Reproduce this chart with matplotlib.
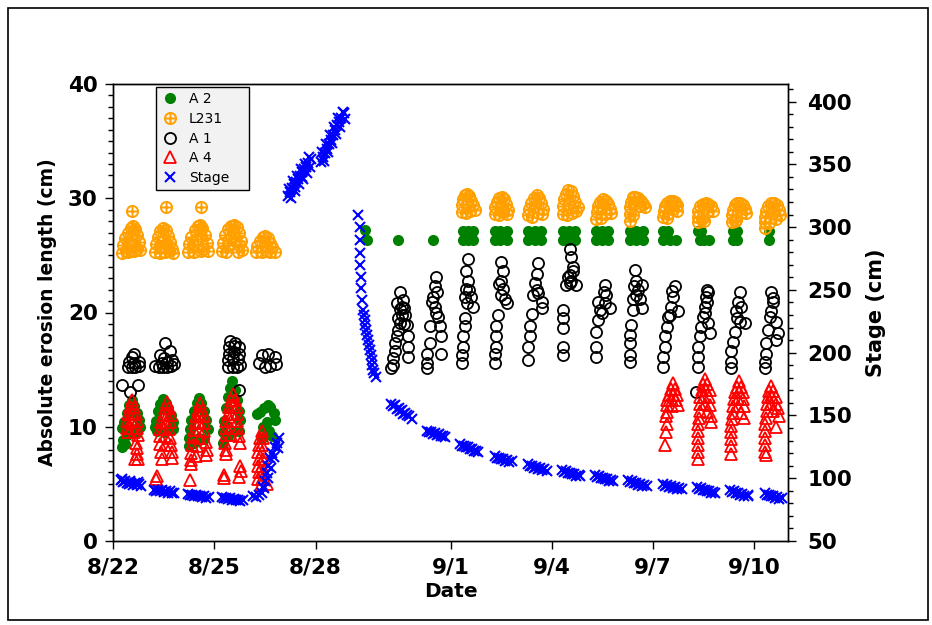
import matplotlib
matplotlib.use("Agg")
import matplotlib.pyplot as plt
from matplotlib.path import Path
from matplotlib.patches import Rectangle
from matplotlib.ticker import MultipleLocator

# ---------------------------------------------------------------------------
# data: x = days after 8/22, y = erosion length (cm) or stage (cm)
# ---------------------------------------------------------------------------
DATE_TICKS = [0, 3, 6, 10, 13, 16, 19]
DATE_LABELS = ['8/22', '8/25', '8/28', '9/1', '9/4', '9/7', '9/10']

A2_POINTS = [
    (0.27, 8.2), (0.30, 8.8), (0.27, 9.9), (0.33, 10.4), (0.40, 11.2), (0.48, 11.9), (0.55, 12.3),
    (0.62, 11.8), (0.70, 11.2), (0.76, 10.6), (0.80, 10.0), (0.40, 9.3), (0.55, 9.8), (0.70, 9.5), (0.35, 8.5),
    (1.24, 10.0), (1.26, 10.5), (1.32, 11.4), (1.40, 12.0), (1.48, 12.4), (1.56, 12.1), (1.64, 11.6),
    (1.72, 11.0), (1.78, 10.4), (1.78, 9.8), (1.30, 9.6), (1.50, 9.5), (1.65, 9.7),
    (2.25, 8.3), (2.25, 9.0), (2.28, 9.8), (2.32, 10.6), (2.40, 11.4), (2.48, 12.1), (2.55, 12.5),
    (2.62, 12.1), (2.70, 11.4), (2.77, 10.6), (2.81, 9.8), (2.40, 8.6), (2.55, 9.0), (2.70, 8.9),
    (3.26, 8.6), (3.26, 9.5), (3.30, 10.5), (3.36, 11.6), (3.42, 12.6), (3.48, 13.4), (3.52, 14.0),
    (3.60, 13.2), (3.66, 12.3), (3.72, 11.4), (3.76, 10.6), (3.40, 9.2), (3.60, 9.6), (3.74, 9.6),
    (4.26, 11.1), (4.35, 11.3), (4.48, 11.6), (4.58, 11.9), (4.66, 11.7), (4.76, 11.2), (4.80, 10.6),
    (4.55, 10.4), (4.45, 10.0), (4.62, 9.6), (4.70, 9.2), (4.40, 9.0),
    (7.47, 27.2), (7.52, 26.35), (8.45, 26.35), (9.47, 26.35),
    (10.36, 27.1), (10.51, 27.1), (10.66, 27.1), (10.36, 26.35), (10.51, 26.35), (10.66, 26.35),
    (11.31, 27.1), (11.48, 27.1), (11.66, 27.1), (11.31, 26.35), (11.48, 26.35), (11.66, 26.35),
    (12.29, 27.1), (12.49, 27.1), (12.69, 27.1), (12.29, 26.35), (12.49, 26.35), (12.69, 26.35),
    (13.33, 27.1), (13.50, 27.1), (13.68, 27.1), (13.33, 26.35), (13.50, 26.35), (13.68, 26.35),
    (14.32, 27.1), (14.49, 27.1), (14.66, 27.1), (14.32, 26.35), (14.49, 26.35), (14.66, 26.35),
    (15.31, 27.1), (15.50, 27.1), (15.69, 27.1), (15.31, 26.35), (15.50, 26.35), (15.69, 26.35),
    (16.29, 27.1), (16.45, 27.1), (16.29, 26.35), (16.49, 26.35), (16.69, 26.35),
    (17.33, 27.1), (17.42, 27.1), (17.38, 26.35), (17.52, 26.35), (17.65, 26.35),
    (18.36, 27.1), (18.48, 27.1), (18.36, 26.35), (18.48, 26.35),
    (19.45, 27.1), (19.45, 26.35),
]

L231_POINTS = [
    (0.27, 25.2), (0.30, 25.9), (0.36, 26.5), (0.44, 27.0), (0.52, 27.4), (0.59, 27.6), (0.66, 27.3),
    (0.72, 26.8), (0.77, 26.2), (0.80, 25.5), (0.45, 25.3), (0.62, 25.4), (0.53, 26.4), (0.38, 25.4),
    (0.70, 25.6), (0.45, 26.0), (0.60, 26.9), (0.56, 28.9),
    (1.24, 25.3), (1.27, 26.0), (1.33, 26.6), (1.40, 27.1), (1.49, 27.4), (1.57, 27.2), (1.63, 26.7),
    (1.70, 26.2), (1.76, 25.6), (1.78, 25.2), (1.40, 25.2), (1.55, 25.3), (1.48, 26.3), (1.65, 25.4),
    (1.38, 25.8), (1.58, 26.0), (1.57, 29.2),
    (2.22, 25.3), (2.25, 26.0), (2.32, 26.6), (2.42, 27.2), (2.52, 27.6), (2.58, 27.7), (2.65, 27.4),
    (2.72, 26.8), (2.78, 26.1), (2.81, 25.4), (2.40, 25.3), (2.60, 25.4), (2.50, 26.4), (2.68, 25.6),
    (2.38, 25.9), (2.62, 26.7), (2.60, 29.2),
    (3.23, 25.4), (3.26, 26.1), (3.32, 26.8), (3.40, 27.3), (3.50, 27.6), (3.58, 27.7), (3.66, 27.5),
    (3.73, 27.0), (3.79, 26.3), (3.82, 25.5), (3.36, 25.3), (3.70, 25.3), (3.50, 26.5), (3.62, 26.3),
    (3.40, 25.9), (3.74, 25.9), (3.56, 27.0),
    (4.24, 25.3), (4.28, 25.8), (4.35, 26.3), (4.43, 26.6), (4.50, 26.7), (4.58, 26.5), (4.65, 26.1),
    (4.72, 25.7), (4.79, 25.3), (4.40, 25.3), (4.55, 25.4), (4.65, 25.3), (4.50, 25.9),
    (10.33, 28.8), (10.34, 29.4), (10.38, 29.9), (10.44, 30.3), (10.50, 30.4), (10.56, 30.2),
    (10.62, 29.8), (10.68, 29.4), (10.72, 29.0), (10.45, 28.7), (10.58, 28.9), (10.50, 29.5),
    (11.31, 28.6), (11.33, 29.2), (11.38, 29.7), (11.45, 30.0), (11.52, 30.1), (11.58, 29.9),
    (11.64, 29.5), (11.70, 29.0), (11.68, 28.6), (11.45, 28.5), (11.55, 28.8), (11.50, 29.3),
    (12.29, 28.5), (12.32, 29.1), (12.38, 29.6), (12.46, 30.0), (12.55, 30.3), (12.62, 30.0),
    (12.68, 29.6), (12.73, 29.1), (12.72, 28.6), (12.42, 28.4), (12.58, 28.7), (12.50, 29.3),
    (13.33, 28.6), (13.33, 29.3), (13.36, 29.9), (13.42, 30.4), (13.48, 30.7), (13.56, 30.6),
    (13.63, 30.2), (13.70, 29.7), (13.77, 29.2), (13.45, 28.5), (13.60, 28.7), (13.52, 29.5), (13.72, 28.9),
    (14.32, 28.2), (14.33, 28.8), (14.37, 29.3), (14.44, 29.7), (14.52, 29.9), (14.60, 29.8),
    (14.66, 29.5), (14.72, 29.1), (14.76, 28.7), (14.45, 28.3), (14.58, 28.6), (14.50, 29.2),
    (15.33, 28.0), (15.31, 28.6), (15.31, 29.2), (15.34, 29.7), (15.40, 30.1), (15.48, 30.1),
    (15.56, 30.0), (15.63, 29.8), (15.70, 29.5), (15.75, 29.2), (15.40, 28.5), (15.45, 29.5), (15.60, 29.3),
    (16.29, 28.4), (16.32, 28.9), (16.36, 29.3), (16.42, 29.6), (16.50, 29.8), (16.58, 29.8),
    (16.65, 29.7), (16.72, 29.4), (16.70, 28.9), (16.45, 28.6), (16.58, 29.1), (16.40, 28.3),
    (17.33, 27.9), (17.32, 28.4), (17.34, 28.9), (17.40, 29.3), (17.48, 29.5), (17.56, 29.6),
    (17.64, 29.5), (17.72, 29.3), (17.77, 28.9), (17.45, 28.2), (17.60, 28.8), (17.50, 28.0),
    (18.33, 27.9), (18.33, 28.5), (18.36, 29.0), (18.42, 29.4), (18.50, 29.6), (18.58, 29.6),
    (18.66, 29.4), (18.73, 29.1), (18.77, 28.7), (18.45, 28.1), (18.60, 28.7), (18.42, 28.0),
    (19.31, 27.4), (19.31, 27.9), (19.33, 28.4), (19.36, 28.9), (19.42, 29.3), (19.50, 29.6),
    (19.58, 29.6), (19.66, 29.4), (19.73, 29.0), (19.75, 28.5), (19.45, 27.8), (19.55, 28.7), (19.65, 28.2),
]

A1_POINTS = [
    (0.26, 13.65), (0.50, 13.07), (0.75, 13.65),
    (0.44, 15.2), (0.55, 15.2), (0.66, 15.2), (0.78, 15.3), (0.48, 15.7), (0.62, 15.6), (0.76, 15.7),
    (0.55, 16.1), (0.62, 16.4),
    (1.24, 15.3), (1.36, 15.2), (1.48, 15.2), (1.60, 15.2), (1.72, 15.3), (1.80, 15.5), (1.45, 15.6),
    (1.60, 15.7), (1.75, 15.8), (1.39, 16.3), (1.69, 16.6), (1.54, 17.3), (1.52, 16.0),
    (3.42, 15.2), (3.55, 15.2), (3.68, 15.2), (3.76, 15.4), (3.42, 15.8), (3.55, 15.9), (3.70, 15.9),
    (3.45, 16.4), (3.58, 16.5), (3.72, 16.4), (3.45, 17.0), (3.58, 17.1), (3.48, 17.5), (3.62, 17.3),
    (3.72, 17.0), (3.74, 13.2),
    (4.41, 16.3), (4.59, 16.37), (4.80, 16.1), (4.32, 15.55), (4.50, 15.2), (4.83, 15.5), (4.65, 15.3),
    (8.25, 15.1), (8.30, 15.4), (8.30, 16.0), (8.35, 16.6), (8.35, 17.3), (8.40, 17.9), (8.45, 18.5),
    (8.50, 19.05), (8.55, 19.8), (8.55, 20.5), (8.60, 21.1), (8.50, 21.8), (8.74, 16.1), (8.74, 17.0),
    (8.74, 17.9), (8.70, 18.9), (8.65, 19.8), (8.40, 20.8), (8.50, 20.3), (8.62, 20.4), (8.45, 19.5),
    (8.62, 19.0),
    (9.58, 23.1), (9.53, 22.3), (9.49, 21.4), (9.53, 20.5), (9.63, 19.6), (9.68, 18.8), (9.73, 17.9),
    (9.73, 16.4), (9.39, 18.8), (9.39, 17.3), (9.29, 16.4), (9.29, 15.55), (9.29, 15.1), (9.44, 20.9),
    (9.60, 21.8), (9.58, 20.0),
    (10.52, 24.7), (10.47, 23.6), (10.52, 22.8), (10.47, 22.1), (10.42, 21.4), (10.62, 21.4),
    (10.67, 20.5), (10.42, 19.5), (10.42, 18.8), (10.37, 17.9), (10.37, 17.0), (10.33, 16.3),
    (10.33, 15.55), (10.50, 20.8), (10.55, 22.0),
    (11.51, 24.45), (11.56, 23.6), (11.51, 22.8), (11.56, 22.1), (11.66, 20.8), (11.41, 19.8),
    (11.36, 18.8), (11.36, 17.9), (11.36, 17.0), (11.31, 15.55), (11.31, 16.4), (11.50, 21.5),
    (11.60, 21.2), (11.45, 22.5),
    (12.60, 24.3), (12.55, 23.4), (12.50, 22.55), (12.60, 21.7), (12.70, 20.9), (12.70, 20.4),
    (12.40, 19.9), (12.35, 18.8), (12.35, 17.9), (12.30, 17.0), (12.30, 15.8), (12.55, 22.0), (12.45, 21.5),
    (13.53, 25.6), (13.58, 24.9), (13.64, 24.0), (13.53, 23.3), (13.53, 22.55), (13.73, 22.4),
    (13.48, 23.1), (13.43, 22.4), (13.33, 20.2), (13.33, 19.5), (13.33, 18.6), (13.33, 17.0),
    (13.33, 16.3), (13.62, 23.6), (13.58, 22.8),
    (14.57, 22.4), (14.62, 21.5), (14.57, 20.8), (14.72, 20.4), (14.42, 20.2), (14.37, 19.3),
    (14.32, 18.3), (14.32, 17.0), (14.32, 16.1), (14.37, 20.95), (14.55, 21.8), (14.50, 20.0),
    (15.46, 23.7), (15.51, 22.8), (15.55, 22.0), (15.66, 22.4), (15.41, 21.2), (15.41, 20.2),
    (15.66, 20.4), (15.36, 18.9), (15.31, 18.0), (15.31, 17.3), (15.31, 16.3), (15.31, 15.7),
    (15.50, 21.5), (15.60, 21.2), (15.45, 22.3),
    (16.64, 22.3), (16.59, 21.4), (16.54, 20.5), (16.44, 19.6), (16.40, 18.75), (16.35, 17.9),
    (16.35, 17.0), (16.30, 16.1), (16.30, 15.26), (16.74, 20.1), (16.55, 21.9), (16.50, 19.8),
    (17.28, 13.07),
    (17.58, 21.4), (17.53, 20.5), (17.48, 19.6), (17.43, 18.75), (17.38, 17.9), (17.33, 17.0),
    (17.33, 16.1), (17.33, 15.26), (17.68, 18.2), (17.63, 19.05), (17.60, 20.9), (17.55, 20.0),
    (17.62, 21.8), (17.60, 22.0),
    (18.57, 21.8), (18.52, 20.95), (18.47, 20.1), (18.57, 19.2), (18.42, 18.3), (18.37, 17.45),
    (18.32, 16.6), (18.32, 15.7), (18.32, 15.1), (18.72, 19.05), (18.60, 20.5), (18.50, 19.5),
    (19.51, 21.8), (19.56, 20.95), (19.51, 20.1), (19.65, 19.2), (19.70, 18.2), (19.65, 17.6),
    (19.36, 17.3), (19.36, 16.4), (19.31, 15.7), (19.31, 15.1), (19.46, 19.6), (19.55, 21.3), (19.42, 18.5),
]

A4_POINTS = [
    (0.56, 12.3), (0.50, 11.7), (0.62, 11.7), (0.45, 11.1), (0.56, 11.1), (0.68, 11.1), (0.42, 10.5),
    (0.55, 10.5), (0.70, 10.5), (0.40, 9.9), (0.55, 9.9), (0.72, 9.9), (0.45, 9.5), (0.62, 9.5),
    (0.75, 9.3), (0.68, 8.6), (0.72, 8.1), (0.70, 7.6), (0.75, 7.2), (0.66, 7.2),
    (1.61, 12.2), (1.55, 11.6), (1.66, 11.6), (1.48, 11.0), (1.60, 11.0), (1.72, 11.0), (1.42, 10.4),
    (1.56, 10.4), (1.70, 10.4), (1.38, 9.8), (1.52, 9.8), (1.66, 9.8), (1.40, 9.2), (1.55, 9.2),
    (1.70, 9.0), (1.40, 8.5), (1.55, 8.4), (1.72, 8.4), (1.42, 7.8), (1.75, 7.8), (1.45, 7.2),
    (1.75, 7.3), (1.27, 5.4), (1.30, 5.7),
    (2.58, 12.1), (2.52, 11.5), (2.64, 11.5), (2.46, 10.9), (2.58, 10.9), (2.70, 10.9), (2.42, 10.3),
    (2.56, 10.3), (2.70, 10.3), (2.40, 9.7), (2.55, 9.7), (2.70, 9.6), (2.38, 9.1), (2.55, 9.0),
    (2.75, 8.7), (2.35, 8.4), (2.50, 8.3), (2.78, 8.0), (2.32, 7.7), (2.30, 7.1), (2.45, 7.4),
    (2.75, 7.5), (2.32, 6.7), (2.28, 5.3),
    (3.56, 12.9), (3.50, 12.3), (3.62, 12.3), (3.44, 11.7), (3.56, 11.7), (3.68, 11.7), (3.40, 11.1),
    (3.53, 11.1), (3.66, 11.1), (3.36, 10.5), (3.50, 10.5), (3.66, 10.5), (3.35, 9.9), (3.50, 9.9),
    (3.70, 9.9), (3.34, 9.3), (3.50, 9.3), (3.74, 9.2), (3.76, 8.6), (3.32, 8.6), (3.36, 8.0),
    (3.34, 7.6), (3.76, 6.6), (3.80, 6.1), (3.72, 5.6), (3.29, 5.5), (3.29, 5.8),
    (4.40, 9.6), (4.35, 9.0), (4.45, 9.0), (4.32, 8.4), (4.42, 8.4), (4.30, 7.8), (4.40, 7.8),
    (4.32, 7.2), (4.45, 7.2), (4.30, 6.6), (4.42, 6.6), (4.32, 6.0), (4.45, 6.0), (4.30, 5.4),
    (4.42, 5.4), (4.38, 4.9), (4.55, 5.0),
    (16.58, 13.8), (16.52, 13.3), (16.64, 13.3), (16.46, 12.8), (16.58, 12.8), (16.70, 12.8),
    (16.42, 12.3), (16.55, 12.3), (16.68, 12.3), (16.74, 11.9), (16.40, 11.9), (16.55, 11.8),
    (16.40, 11.3), (16.38, 10.9), (16.40, 10.2), (16.38, 9.5), (16.35, 8.4),
    (17.55, 14.2), (17.48, 13.7), (17.60, 13.7), (17.44, 13.2), (17.56, 13.2), (17.68, 13.2),
    (17.40, 12.6), (17.52, 12.6), (17.66, 12.6), (17.40, 12.0), (17.54, 12.0), (17.70, 11.9),
    (17.40, 11.4), (17.60, 11.3), (17.73, 10.9), (17.73, 10.4), (17.35, 10.8), (17.33, 10.2),
    (17.33, 9.6), (17.33, 9.0), (17.33, 8.4), (17.33, 7.8), (17.33, 7.2),
    (18.56, 14.0), (18.50, 13.5), (18.62, 13.5), (18.44, 13.0), (18.56, 13.0), (18.68, 13.0),
    (18.40, 12.4), (18.52, 12.4), (18.66, 12.4), (18.38, 11.8), (18.52, 11.8), (18.70, 11.8),
    (18.38, 11.2), (18.60, 11.2), (18.70, 10.8), (18.34, 10.7), (18.32, 10.1), (18.32, 9.5),
    (18.32, 8.9), (18.32, 8.3), (18.32, 7.6),
    (19.50, 13.6), (19.44, 13.1), (19.56, 13.1), (19.40, 12.6), (19.52, 12.6), (19.64, 12.6),
    (19.38, 12.0), (19.50, 12.0), (19.64, 12.0), (19.70, 11.6), (19.38, 11.4), (19.55, 11.4),
    (19.72, 10.9), (19.65, 10.0), (19.34, 10.8), (19.31, 10.2), (19.31, 9.6), (19.31, 9.0),
    (19.31, 8.4), (19.31, 7.8), (19.34, 7.5),
]

STAGE_POINTS = [
    (0.24, 98.5), (0.30, 97.0), (0.36, 98.0), (0.42, 96.5), (0.48, 95.5), (0.54, 96.5), (0.60, 95.0),
    (0.66, 96.0), (0.72, 94.5), (0.78, 95.5), (0.83, 94.0), (0.28, 99.0), (0.50, 97.5), (0.75, 97.0),
    (1.21, 91.0), (1.27, 90.0), (1.33, 91.0), (1.39, 89.5), (1.45, 90.5), (1.51, 89.0), (1.57, 90.0),
    (1.63, 88.5), (1.69, 89.5), (1.75, 88.0), (1.81, 88.5),
    (2.22, 87.5), (2.28, 86.5), (2.34, 87.0), (2.40, 86.0), (2.46, 86.5), (2.52, 85.5), (2.58, 86.0),
    (2.64, 85.0), (2.70, 85.5), (2.76, 84.5), (2.84, 85.0),
    (3.23, 85.0), (3.29, 84.0), (3.35, 84.5), (3.41, 83.5), (3.47, 84.0), (3.53, 83.0), (3.59, 83.5),
    (3.65, 82.5), (3.71, 83.0), (3.77, 82.0), (3.85, 82.5),
    (4.15, 86.0), (4.25, 85.0), (4.33, 86.5), (4.40, 88.5), (4.45, 93.0), (4.50, 98.0), (4.55, 104.0),
    (4.60, 110.0), (4.65, 116.0), (4.72, 120.0), (4.80, 125.0), (4.86, 128.0), (4.92, 132.0),
    (4.48, 92.0), (4.58, 100.0), (4.68, 108.0), (4.78, 117.0), (4.88, 124.0),
    (5.18, 325), (5.24, 328), (5.30, 331), (5.36, 334), (5.42, 336), (5.48, 338), (5.54, 341),
    (5.60, 344), (5.66, 346), (5.72, 348), (5.78, 351), (5.86, 354), (5.40, 332), (5.60, 340),
    (5.20, 330), (5.32, 337), (5.44, 341), (5.56, 346), (5.68, 350), (5.80, 356),
    (5.26, 323), (5.38, 329), (5.50, 334), (5.62, 338), (5.74, 343), (5.84, 348),
    (6.15, 352), (6.22, 356), (6.28, 359), (6.34, 362), (6.40, 366), (6.46, 369), (6.52, 373),
    (6.58, 377), (6.64, 381), (6.70, 384), (6.76, 387), (6.85, 391),
    (6.20, 360), (6.32, 366), (6.44, 373), (6.56, 380), (6.68, 387), (6.80, 392),
    (6.26, 353), (6.38, 360), (6.50, 367), (6.62, 374), (6.74, 380), (6.86, 386),
    (7.26, 309.7), (7.31, 300.4), (7.31, 289.8), (7.31, 279.5), (7.33, 269.9), (7.36, 260.6),
    (7.36, 251.6), (7.39, 242), (7.41, 234), (7.43, 230), (7.46, 226), (7.48, 222), (7.51, 218),
    (7.53, 214), (7.56, 210), (7.58, 206), (7.61, 202), (7.63, 198), (7.66, 194), (7.68, 190),
    (7.71, 186), (7.74, 184), (7.79, 181),
    (8.25, 159.5), (8.30, 157.5), (8.36, 158), (8.40, 155.5), (8.46, 156), (8.50, 153.5),
    (8.56, 154), (8.60, 151.5), (8.66, 152), (8.72, 150), (8.78, 149.5), (8.85, 147.5),
    (9.29, 138), (9.35, 136.5), (9.41, 137), (9.47, 135.5), (9.53, 136), (9.59, 134.5),
    (9.65, 135), (9.71, 133.5), (9.77, 134), (9.83, 133),
    (10.27, 127), (10.33, 125.5), (10.39, 126), (10.45, 124.5), (10.51, 125), (10.57, 123),
    (10.63, 123.5), (10.69, 121.5), (10.75, 122), (10.81, 120.5),
    (11.31, 117.5), (11.37, 116), (11.43, 116.5), (11.49, 115), (11.55, 115.5), (11.61, 114),
    (11.67, 114.5), (11.73, 113), (11.81, 113.5),
    (12.29, 111), (12.35, 109.5), (12.41, 110), (12.47, 108.5), (12.53, 109), (12.59, 107.5),
    (12.65, 108), (12.71, 106.5), (12.77, 107), (12.85, 106),
    (13.30, 106.5), (13.36, 105), (13.42, 105.5), (13.48, 104), (13.54, 104.5), (13.60, 103),
    (13.66, 103.5), (13.72, 102), (13.80, 102.5), (13.85, 101.8),
    (14.27, 102.5), (14.33, 101), (14.39, 101.5), (14.45, 100), (14.51, 100.5), (14.57, 99),
    (14.63, 99.5), (14.69, 98), (14.75, 98.5), (14.81, 97.8),
    (15.25, 98.5), (15.31, 97), (15.37, 97.5), (15.43, 96), (15.49, 96.5), (15.55, 95),
    (15.61, 95.5), (15.67, 94), (15.73, 94.5), (15.81, 93.8),
    (16.29, 95.5), (16.35, 94), (16.41, 94.5), (16.47, 93), (16.53, 93.5), (16.59, 92.5),
    (16.65, 93), (16.71, 91.5), (16.77, 92), (16.85, 91.3),
    (17.29, 93), (17.35, 91.5), (17.41, 92), (17.47, 90.5), (17.53, 91), (17.59, 89.5),
    (17.65, 90), (17.71, 88.5), (17.77, 89), (17.83, 88.2),
    (18.29, 90.5), (18.35, 89), (18.41, 89.5), (18.47, 88), (18.53, 88.5), (18.59, 87),
    (18.65, 87.5), (18.71, 86), (18.80, 86.5), (18.80, 85.9),
    (19.31, 88), (19.37, 86.5), (19.43, 87), (19.49, 85.5), (19.55, 86), (19.61, 84.5),
    (19.67, 85), (19.73, 83.5), (19.81, 84),
]


def unzip(points):
    return [p[0] for p in points], [p[1] for p in points]


# circle with a cross inside, used for L231
OPLUS = Path.make_compound_path(
    Path.unit_circle(),
    Path([[-1, 0], [1, 0], [0, -1], [0, 1]],
         [Path.MOVETO, Path.LINETO, Path.MOVETO, Path.LINETO]),
)

plt.rcParams['font.family'] = ['DejaVu Sans']

fig = plt.figure(figsize=(9.32, 6.25), dpi=100)
fig.patches.append(Rectangle((8 / 932, 5 / 625), 920 / 932, 612 / 625, transform=fig.transFigure,
                             fill=False, edgecolor='black', linewidth=1.2))
ax = fig.add_axes([113 / 932, 1 - 541 / 625, 675 / 932, 457 / 625])
ax2 = ax.twinx()

MS = 8
x, y = unzip(A2_POINTS)
h_a2, = ax.plot(x, y, 'o', color='#008000', markersize=MS, markeredgewidth=0, label='A 2')
x, y = unzip(L231_POINTS)
h_l231, = ax.plot(x, y, linestyle='none', marker=OPLUS, markersize=MS, markerfacecolor='none',
                  markeredgecolor='#FFA000', markeredgewidth=1.4, label='L231')
x, y = unzip(A1_POINTS)
h_a1, = ax.plot(x, y, 'o', markersize=MS, markerfacecolor='none', markeredgecolor='black',
                markeredgewidth=1.3, label='A 1')
x, y = unzip(A4_POINTS)
h_a4, = ax.plot(x, y, '^', markersize=MS, markerfacecolor='none', markeredgecolor='#FF0000',
                markeredgewidth=1.3, label='A 4')
x, y = unzip(STAGE_POINTS)
h_st, = ax2.plot(x, y, 'x', color='#0000FF', markersize=7, markeredgewidth=1.5, label='Stage')

ax.set_xlim(0, 20)
ax.set_ylim(0, 40)
ax2.set_ylim(50, 414)

ax.set_xticks(DATE_TICKS)
ax.set_xticklabels(DATE_LABELS)
ax.yaxis.set_major_locator(MultipleLocator(10))
ax.yaxis.set_minor_locator(MultipleLocator(1))
ax2.set_yticks([50, 100, 150, 200, 250, 300, 350, 400])
ax2.yaxis.set_minor_locator(MultipleLocator(10))

ax.tick_params(axis='x', which='major', direction='out', length=6, width=1, pad=6, labelsize=15.5)
ax.tick_params(axis='y', which='major', direction='out', length=6, width=1, pad=5, labelsize=15.5)
ax.tick_params(axis='y', which='minor', direction='out', length=3.5, width=1)
ax2.tick_params(axis='y', which='major', direction='out', length=6, width=1, pad=8, labelsize=15.5)
ax2.tick_params(axis='y', which='minor', direction='out', length=3.5, width=1)
for lab in ax.get_xticklabels() + ax.get_yticklabels() + ax2.get_yticklabels():
    lab.set_fontweight('bold')

for a in (ax, ax2):
    for sp in a.spines.values():
        sp.set_linewidth(1.0)

ax.set_xlabel('Date', fontsize=14.5, fontweight='bold', labelpad=3)
ax.set_ylabel('Absolute erosion length (cm)', fontsize=13.5, fontweight='bold', labelpad=8)
ax2.set_ylabel('Stage (cm)', fontsize=15, fontweight='bold', labelpad=10)

# legend box spans x 156-249 px, top at 87 px
leg = ax2.legend(handles=[h_a2, h_l231, h_a1, h_a4, h_st], loc='upper left',
                 bbox_to_anchor=(43 / 675, 0.5, 93 / 675, 454 / 457 - 0.5), mode='expand',
                 fontsize=10, frameon=True, fancybox=False, framealpha=1, edgecolor='black',
                 facecolor='#F2F2F2', labelspacing=0.42, handlelength=1.3, handletextpad=0.7,
                 borderpad=0.35, borderaxespad=0)
leg.get_frame().set_linewidth(1.0)

fig.savefig('out.png', dpi=100)
